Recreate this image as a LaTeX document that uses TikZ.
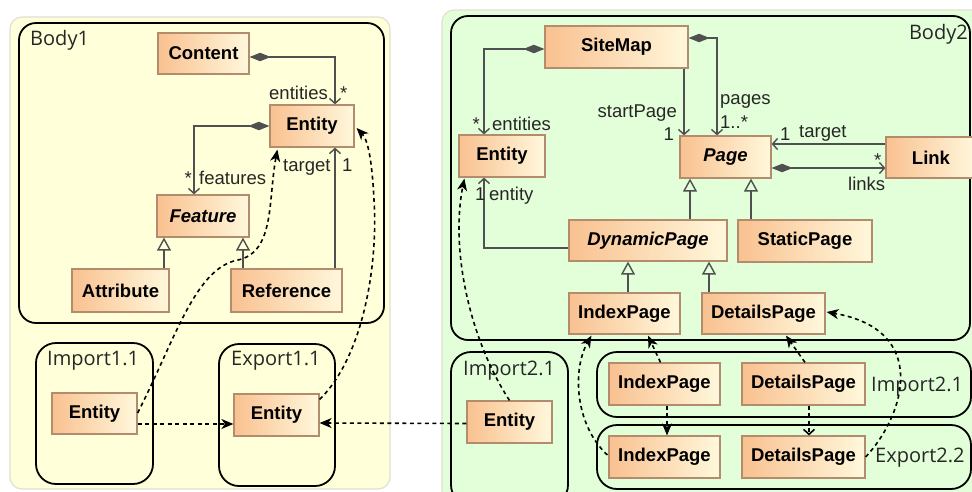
\documentclass[tikz,border=0pt]{standalone}
\usepackage{fontspec}
\setmainfont{Liberation Sans}
\newfontfamily\framefont{Open Sans}
\usetikzlibrary{arrows.meta,calc}

\definecolor{panelY}{HTML}{FFFFD9}
\definecolor{panelG}{HTML}{E3FFD9}
\definecolor{panelEdge}{HTML}{E0E0D2}
\definecolor{clsL}{HTML}{F9C190}
\definecolor{clsR}{HTML}{FFF8DC}
\definecolor{clsEdge}{HTML}{B38B6D}
\definecolor{wire}{HTML}{505050}

\begin{document}
\begin{tikzpicture}[x=1pt,y=-1pt,
  panel/.style={draw=panelEdge, line width=1.2pt, rounded corners=12pt},
  frame/.style={draw=black, line width=1.8pt, rounded corners=17pt},
  framelbl/.style={font=\framefont\fontsize{20}{22}\selectfont, text=black!85, inner sep=0pt},
  cls/.style={draw=clsEdge, line width=1.2pt, left color=clsL, right color=clsR,
    font=\fontsize{18.5}{22}\selectfont\bfseries, text=black, inner sep=0pt},
  abstractcls/.style={cls, font=\fontsize{18.5}{22}\selectfont\bfseries\itshape},
  lbl/.style={font=\fontsize{18.5}{22}\selectfont, text=black!85, inner sep=0pt},
  assoc/.style={draw=wire, line width=1.4pt},
  owns/.style={assoc, {Diamond[length=21pt,width=8.5pt]}-{Straight Barb[length=5pt,width=11pt]}},
  refers/.style={assoc, -{Straight Barb[length=5pt,width=11pt]}},
  gen/.style={assoc, -{Triangle[open,length=13pt,width=14pt]}},
  flow/.style={draw=black, line width=1.6pt, dash pattern=on 4pt off 3.5pt,
    -{Stealth[length=12pt,width=10pt,inset=3.5pt]}},
  flowopen/.style={draw=black, line width=1.6pt, dash pattern=on 4pt off 3.5pt,
    -{Straight Barb[length=5pt,width=11pt]}}
]
\useasboundingbox (0,0) rectangle (972,491);
\clip (0,0) rectangle (972,491);
\fill[white] (0,0) rectangle (972,491);

% background panels
\filldraw[panel, fill=panelY] (10,17) rectangle (390,489);
\filldraw[panel, fill=panelG] (442,10) rectangle (990,505);

% containers
\draw[frame] (19,23) rectangle (384,323);
\draw[frame, rounded corners=20pt] (36,343) rectangle (153,484);
\draw[frame, rounded corners=20pt] (219,344) rectangle (335,486);
\draw[frame] (451,16) rectangle (970,340);
\draw[frame, rounded corners=20pt] (451,352) rectangle (568,505);
\draw[frame, rounded corners=20pt] (597,352) rectangle (971,417);
\draw[frame, rounded corners=20pt] (597,425) rectangle (971,489);

\node[framelbl, anchor=base west] (lbody1) at (30,45) {Body1};
\node[framelbl, anchor=base east] (lbody2) at (968,39) {Body2};
\node[framelbl, anchor=base west] (limp11) at (47,365) {Import1.1};
\node[framelbl, anchor=base west] (lexp11) at (231,365) {Export1.1};
\node[framelbl, anchor=base west] (limp21a) at (463,375) {Import2.1};
\node[framelbl, anchor=base west] (limp21b) at (871,391) {Import2.1};
\node[framelbl, anchor=base west] (lexp22) at (875,462) {Export2.2};

% classes of Body1
\node[cls, minimum width=91pt, minimum height=41pt] (content) at (203.5,53.5) {Content};
\node[cls, minimum width=84pt, minimum height=42pt] (ent1) at (312,126) {Entity};
\node[abstractcls, minimum width=92pt, minimum height=42pt] (feature) at (203,216) {Feature};
\node[cls, minimum width=97pt, minimum height=43pt] (attribute) at (120.5,290.5) {Attribute};
\node[cls, minimum width=111pt, minimum height=43pt] (reference) at (286.5,290.5) {Reference};
\node[cls, minimum width=85pt, minimum height=41pt] (ie1) at (94.5,413.5) {Entity};
\node[cls, minimum width=85pt, minimum height=42pt] (ee1) at (276.5,415) {Entity};

% classes of Body2
\node[cls, minimum width=143pt, minimum height=42pt] (sitemap) at (616.5,47) {SiteMap};
\node[cls, minimum width=86pt, minimum height=42pt] (ent2) at (502,156) {Entity};
\node[abstractcls, minimum width=91pt, minimum height=42pt] (page) at (725.5,157) {Page};
\node[cls, minimum width=90pt, minimum height=41pt] (link) at (931,157.5) {Link};
\node[abstractcls, minimum width=158pt, minimum height=41pt] (dynamic) at (648,240.5) {DynamicPage};
\node[cls, minimum width=134pt, minimum height=42pt] (static) at (805,241) {StaticPage};
\node[cls, minimum width=111pt, minimum height=41pt] (index) at (624.5,313.5) {IndexPage};
\node[cls, minimum width=123pt, minimum height=41pt] (details) at (763.5,313.5) {DetailsPage};
\node[cls, minimum width=85pt, minimum height=42pt] (ie2) at (509.5,422) {Entity};
\node[cls, minimum width=111pt, minimum height=42pt] (iindex) at (664.5,384) {IndexPage};
\node[cls, minimum width=123pt, minimum height=42pt] (idetails) at (803.5,384) {DetailsPage};
\node[cls, minimum width=111pt, minimum height=42pt] (eindex) at (664.5,457) {IndexPage};
\node[cls, minimum width=123pt, minimum height=42pt] (edetails) at (803.5,457) {DetailsPage};

% associations of Body1
\draw[owns] ($(content.east)+(0,3.5)$) -| ($(ent1.north)+(23,0)$);
\node[lbl, anchor=base east] (l1) at (328,99) {entities};
\node[lbl, anchor=base west] (l2) at (340,99) {*};
\draw[owns] (ent1.west) -| ($(feature.north)+(-9,0)$);
\node[lbl, anchor=base east] (l3) at (192,184) {*};
\node[lbl, anchor=base west] (l4) at (199,184) {features};
\draw[gen] ($(attribute.north)+(43.5,0)$) -- ($(feature.south)+(-39,0)$);
\draw[gen] ($(reference.north)+(-43.5,0)$) -- ($(feature.south)+(40,0)$);
\draw[refers] ($(reference.north)+(48.5,0)$) -- ($(ent1.south)+(23,0)$);
\node[lbl, anchor=base west] (l5) at (283,171) {target};
\node[lbl, anchor=base west] (l6) at (342,171) {1};

% associations of Body2
\draw[owns] ($(sitemap.west)+(0,2)$) -| ($(ent2.north)+(-18,0)$);
\node[lbl, anchor=base east] (l7) at (480,130) {*};
\node[lbl, anchor=base west] (l8) at (492,130) {entities};
\draw[refers] ($(sitemap.south)+(67.5,0)$) -- ($(page.north)+(-41.5,0)$);
\node[lbl, anchor=base east] (l9) at (677,117) {startPage};
\node[lbl, anchor=base east] (l10) at (674,140) {1};
\draw[owns] ($(sitemap.east)+(0,-9)$) -| ($(page.north)+(-8.5,0)$);
\node[lbl, anchor=base west] (l11) at (720,104) {pages};
\node[lbl, anchor=base west] (l12) at (720,128) {1..*};
\draw[refers] ($(link.west)+(0,-13.5)$) -- ($(page.east)+(0,-13)$);
\node[lbl, anchor=base west] (l13) at (780,140) {1};
\draw[owns] ($(page.east)+(0,11)$) -- ($(link.west)+(0,10.5)$);
\node[lbl, anchor=base west] (l14) at (799,137) {target};
\node[lbl, anchor=base west] (l15) at (874,166) {*};
\node[lbl, anchor=base west] (l16) at (848,190) {links};
\draw[gen] ($(dynamic.north)+(42,0)$) -- ($(page.south)+(-35.5,0)$);
\draw[gen] ($(static.north)+(-54,0)$) -- ($(page.south)+(25.5,0)$);
\draw[gen] ($(index.north)+(3.5,0)$) -- ($(dynamic.south)+(-20,0)$);
\draw[gen] ($(details.north)+(-54.5,0)$) -- ($(dynamic.south)+(61,0)$);
\draw[refers] ($(dynamic.west)+(0,7.5)$) -| ($(ent2.south)+(-18,0)$);
\node[lbl, anchor=base west] (l17) at (475,200) {1};
\node[lbl, anchor=base west] (l18) at (489,200) {entity};

% import / export links
\draw[flow] ($(ie1.east)+(0,-0.5)$) .. controls (175,340) and (195,268) .. (238,260)
  .. controls (275,252) and (268,200) .. ($(ent1.south west)+(8,2)$);
\draw[flow] ($(ee1.north east)+(0,6)$) .. controls (365,355) and (378,260) .. (374,200)
  .. controls (372,160) and (368,140) .. ($(ent1.east)+(2,2)$);
\draw[flow] ($(ie1.east)+(0,10.5)$) -- ($(ee1.west)+(0,9)$);
\draw[flow] ($(ie2.west)+(0,1.5)$) -- ($(ee1.east)+(0,8)$);
\draw[flow] (ie2.north) .. controls (470,340) and (450,250) .. ($(ent2.south west)+(6,1)$);
\draw[flow] ($(iindex.north)+(-4,0)$) -- ($(index.south)+(23.5,1)$);
\draw[flow] ($(idetails.north)+(1.5,0)$) -- ($(details.south)+(22.5,1)$);
\draw[flow] ($(iindex.south)+(2.5,0)$) -- ($(eindex.north)+(2.5,0)$);
\draw[flowopen] ($(idetails.south)+(5.5,0)$) -- ($(edetails.north)+(5.5,0)$);
\draw[flow] ($(eindex.west)+(-1,-2)$) .. controls (575,425) and (572,370) .. ($(index.south west)+(23,1)$);
\draw[flow] (edetails.east) .. controls (905,415) and (930,330) .. ($(details.east)+(1,-1.5)$);
\end{tikzpicture}
\end{document}
